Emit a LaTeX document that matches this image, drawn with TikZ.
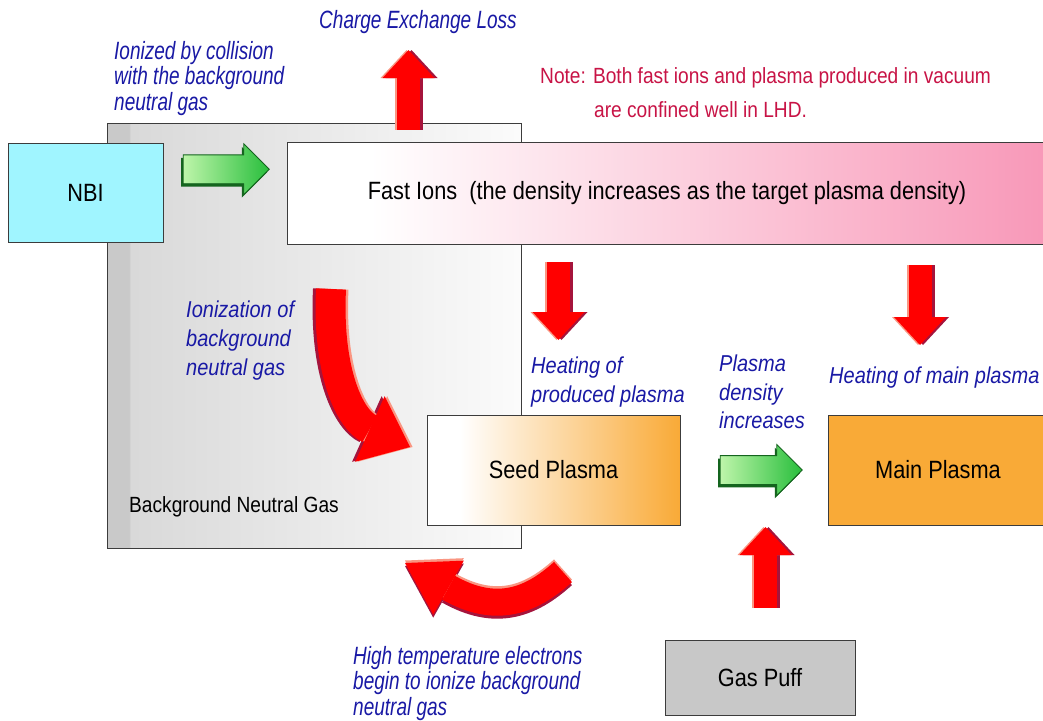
\documentclass[tikz,border=0pt]{standalone}
\usepackage{fontspec}
\setmainfont[FakeStretch=0.87]{Liberation Sans}
\newfontfamily\narrowfont[FakeStretch=0.76]{Liberation Sans}
\usetikzlibrary{arrows.meta,shapes.arrows,shadows,calc}

\definecolor{textblue}{RGB}{25,25,165}
\definecolor{notered}{RGB}{200,20,70}
\definecolor{arrowred}{RGB}{255,0,0}
\definecolor{arrowdark}{RGB}{165,20,60}
\definecolor{arrowlight}{RGB}{250,150,130}
\definecolor{nbicyan}{RGB}{160,245,255}
\definecolor{ionpink}{RGB}{248,152,184}
\definecolor{plasmaorange}{RGB}{249,170,55}
\definecolor{puffgray}{RGB}{200,200,200}
\definecolor{boxline}{RGB}{60,60,60}
\definecolor{lightgreen}{RGB}{190,245,170}
\definecolor{arrowgreen}{RGB}{40,190,60}
\definecolor{darkgreen}{RGB}{20,100,30}

\pgfdeclarehorizontalshading{gasshade}{100bp}{color(0bp)=(gray!42); color(27.7bp)=(gray!42); color(27.8bp)=(gray!30); color(75bp)=(gray!3); color(100bp)=(gray!3)}
\pgfdeclarehorizontalshading{ionshade}{100bp}{color(0bp)=(white); color(30.5bp)=(white); color(75bp)=(ionpink); color(100bp)=(ionpink)}
\pgfdeclarehorizontalshading{seedshade}{100bp}{color(0bp)=(white); color(31.5bp)=(white); color(75bp)=(plasmaorange); color(100bp)=(plasmaorange)}

\begin{document}
\begin{tikzpicture}[x=1pt,y=-1pt,
    box/.style={draw=boxline,line width=0.8pt,font=\fontsize{25}{30}\selectfont,inner sep=0pt},
    note/.style={text=textblue,font=\fontsize{23}{28.5}\selectfont\itshape,align=left,inner sep=0pt},
    thin note/.style={text=textblue,font=\narrowfont\fontsize{25}{25.5}\selectfont\itshape,align=left,inner sep=0pt},
    green arrow/.style={single arrow,single arrow head extend=11pt,inner xsep=2pt,inner ysep=14pt,
      draw=darkgreen,line width=0.8pt,left color=lightgreen,right color=arrowgreen,
      drop shadow={shadow xshift=-2pt,shadow yshift=-3pt,fill=darkgreen,opacity=1}},
    red base/.style={line width=23pt,-{Triangle[length=28pt,width=52pt,line width=0pt]}}]

  \fill[white] (0,0) rectangle (1043,720);
  \useasboundingbox (0,0) rectangle (1043,720);

  % boxes
  \node[box,shade,shading=gasshade,minimum width=414pt,minimum height=425pt] (bg) at (314,335.5) {};
  \node[anchor=west,font=\fontsize{22}{26}\selectfont,inner sep=0pt] (bglabel) at (129,507) {Background Neutral Gas};
  \node[box,fill=nbicyan,minimum width=155pt,minimum height=99pt] (nbi) at (85.5,192.5) {NBI};
  \node[box,shade,shading=ionshade,minimum width=760pt,minimum height=102pt] (fast) at (667,193)
    {Fast Ions\ \ (the density increases as the target plasma density)};
  \node[box,shade,shading=seedshade,minimum width=253pt,minimum height=110pt] (seed) at (553.5,470) {Seed Plasma};
  \node[box,fill=plasmaorange,minimum width=220pt,minimum height=110pt] (main) at (938,470) {Main Plasma};
  \node[box,fill=puffgray,minimum width=190pt,minimum height=75pt] (puff) at (760,677.5) {Gas Puff};

  % green arrows
  \node[green arrow,minimum height=86pt] (inject) at ($(nbi.east)!0.5!(fast.west)+(-6,-23.5)$) {};
  \node[green arrow,minimum height=82pt] (grow) at ($(seed.east)!0.5!(main.west)$) {};

  % red arrows
  \coordinate (cxtip) at (408.5,50);
  \coordinate (heattip1) at (558.5,340);
  \coordinate (heattip2) at (920,345);
  \coordinate (pufftip) at (765.5,527);
  \coordinate (ionstart) at (331,289);
  \coordinate (iontip) at (410,447);
  \coordinate (hotstart) at (563,572);
  \coordinate (hottip) at (405,563);

  \foreach \layer/\dx in {arrowdark/3,arrowlight/-2,arrowred/0} {
    \draw[red base,draw=\layer,transform canvas={xshift=\dx pt}] ([xshift=94.5pt,yshift=-7pt]bg.north) -- (cxtip);
    \draw[red base,draw=\layer,transform canvas={xshift=\dx pt}] ([xshift=-108.5pt,yshift=-18pt]fast.south) -- (heattip1);
    \draw[red base,draw=\layer,transform canvas={xshift=\dx pt}] ([xshift=253pt,yshift=-21pt]fast.south) -- (heattip2);
    \draw[red base,draw=\layer,transform canvas={xshift=\dx pt}] ([xshift=5.5pt,yshift=32pt]puff.north) -- (pufftip);
  }
  \foreach \layer/\dx/\dy in {arrowdark/-3/0,arrowlight/2.5/0,arrowred/0/0}
    \draw[red base,draw=\layer,line width=30pt,-{Triangle[length=44pt,width=72pt,line width=0pt]},
      transform canvas={shift={(\dx pt,\dy pt)}}]
      (ionstart) .. controls (327,372) and (350,420) .. (iontip);
  \foreach \layer/\dx/\dy in {arrowdark/0/-3,arrowlight/0/2.5,arrowred/0/0}
    \draw[red base,draw=\layer,line width=27pt,-{Triangle[length=50pt,width=62pt,line width=0pt]},
      transform canvas={shift={(\dx pt,\dy pt)}}]
      (hotstart) .. controls (530,602) and (495,614) .. (hottip);

  % labels
  \node[thin note] (cxl) at (418,22) {Charge Exchange Loss};
  \node[thin note,anchor=north west] (ionized) at (114,41) {Ionized by collision\\with the background\\neutral gas};
  \node[anchor=north west,text=notered,font=\fontsize{22}{34}\selectfont,align=left,inner sep=0pt] (note) at (540,67)
    {Note: Both fast ions and plasma produced in vacuum\\\hspace*{54pt}are confined well in LHD.};
  \node[note,anchor=north west] (heat1) at (531,357) {Heating of\\produced plasma};
  \node[note,anchor=north west] (dens) at (719,355) {Plasma\\density\\increases};
  \node[note,anchor=west] (heat2) at (829,378) {Heating of main plasma};
  \node[note,anchor=north west,font=\fontsize{23}{29}\selectfont\itshape] (ioniz) at (186,301) {Ionization of\\background\\neutral gas};
  \node[thin note,anchor=north west] (hot) at (353,646) {High temperature electrons\\begin to ionize background\\neutral gas};
\end{tikzpicture}
\end{document}
